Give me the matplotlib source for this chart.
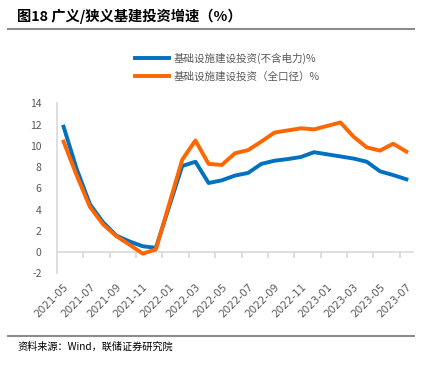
import numpy as np
import matplotlib
matplotlib.use("Agg")
import matplotlib.pyplot as plt
from matplotlib.lines import Line2D

plt.rcParams["font.family"] = ["Noto Sans CJK SC", "DejaVu Sans"]
plt.rcParams["axes.unicode_minus"] = False

# Monthly data, 2021-05 .. 2023-07 (January values not published)
months = ["2021-05", "2021-06", "2021-07", "2021-08", "2021-09", "2021-10",
          "2021-11", "2021-12", "2022-01", "2022-02", "2022-03", "2022-04",
          "2022-05", "2022-06", "2022-07", "2022-08", "2022-09", "2022-10",
          "2022-11", "2022-12", "2023-01", "2023-02", "2023-03", "2023-04",
          "2023-05", "2023-06", "2023-07"]
narrow = [11.8, 7.8, 4.5, 2.8, 1.55, 1.0, 0.55, 0.4, np.nan, 8.1, 8.5, 6.5,
          6.75, 7.2, 7.45, 8.3, 8.6, 8.75, 8.95, 9.4, np.nan, 9.0, 8.8, 8.5,
          7.6, 7.25, 6.85]
broad = [10.4, 7.2, 4.25, 2.6, 1.5, 0.7, -0.15, 0.25, np.nan, 8.7, 10.5, 8.3,
         8.2, 9.3, 9.6, 10.4, 11.25, 11.45, 11.65, 11.55, np.nan, 12.2, 10.85,
         9.85, 9.55, 10.2, 9.45]
labels = ["基础设施建设投资(不含电力)%", "基础设施建设投资（全口径）%"]
colors = ["#0070C0", "#FF6600"]

fig = plt.figure(figsize=(4.37, 3.69), dpi=100)
ax = fig.add_axes([0.1304, 0.2593, 0.8146, 0.4607])

x = np.arange(len(months))
handles = []
for series, color, label in zip([narrow, broad], colors, labels):
    y = np.array(series, dtype=float)
    ok = ~np.isnan(y)
    ln, = ax.plot(x[ok], y[ok], color=color, lw=2.8, solid_joinstyle="round",
                  label=label, zorder=3)
    handles.append(ln)

ax.set_xlim(-0.5, len(months) - 0.5)
ax.set_ylim(-2, 14)
ax.set_yticks(range(-2, 15, 2))
ax.tick_params(axis="y", length=0, labelsize=7.5, labelcolor="#595959", pad=11)

gray = "#D9D9D9"
for s in ["top", "right"]:
    ax.spines[s].set_visible(False)
ax.spines["left"].set_color(gray)
ax.spines["left"].set_linewidth(1.2)
ax.spines["bottom"].set_position(("data", 0))
ax.spines["bottom"].set_color(gray)
ax.spines["bottom"].set_linewidth(1.2)

# tick marks on the zero line between categories, every two months
ax.set_xticks(np.arange(1.5, len(months), 2))
ax.tick_params(axis="x", length=4, color=gray, width=1.2, labelbottom=False)

# labels at the bottom of the plot
sec = ax.secondary_xaxis("bottom")
sec.set_xticks(x[::2])
sec.set_xticklabels(months[::2], rotation=45, ha="right",
                    rotation_mode="anchor", fontsize=7.5, color="#595959",
                    family=["DejaVu Sans"])
sec.tick_params(length=0, pad=6)
sec.spines["bottom"].set_visible(False)

# title and rules
fig.text(0.040, 0.957, "图18 广义/狭义基建投资增速（%）", fontsize=10.3,
         fontweight="bold", va="center", ha="left", color="#000000")
fig.add_artist(Line2D([0.018, 0.947], [0.921, 0.921], color="#8C8C8C", lw=1.5))
fig.add_artist(Line2D([0.018, 0.947], [0.089, 0.089], color="#8C8C8C", lw=1.5))
fig.text(0.040, 0.060, "资料来源：Wind，联储证券研究院", fontsize=7.3,
         va="center", ha="left", color="#000000")

fig.legend(handles=handles, loc="center left", bbox_to_anchor=(0.288, 0.818),
           frameon=False, fontsize=7.6, handlelength=3.2, handletextpad=0.4,
           labelspacing=0.75, labelcolor="#595959")

fig.savefig("out.png", dpi=100)
